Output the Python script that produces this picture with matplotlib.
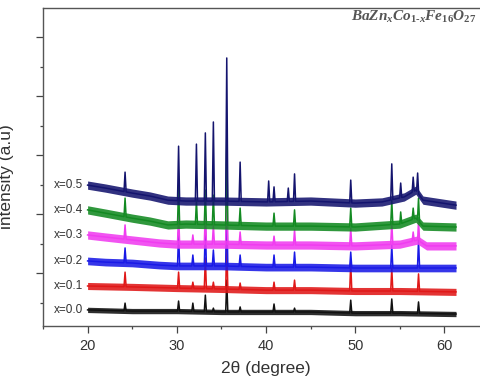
import numpy as np
import matplotlib
matplotlib.use("Agg")
import matplotlib.pyplot as plt
from matplotlib.ticker import MultipleLocator

plt.rcParams['font.family'] = ['Liberation Sans', 'DejaVu Sans']
plt.rcParams['mathtext.fontset'] = 'custom'
plt.rcParams['mathtext.it'] = 'Liberation Serif:italic:bold'
plt.rcParams['mathtext.rm'] = 'Liberation Serif:bold'

# ---------------- data (2theta in degrees, intensity in a.u.) ----------------
labels = ["x=0.0", "x=0.1", "x=0.2", "x=0.3", "x=0.4", "x=0.5"]
colors = ["#111111", "#e01818", "#1a1ae6", "#f03cf0", "#138a22", "#14146e"]

# background anchors
bg_x_05 = [20, 22, 25, 27, 29, 31, 35, 40, 45, 50, 53, 55.5, 56.8, 57.6, 61.3]
bg_y_05 = [1490, 1440, 1355, 1305, 1235, 1220, 1220, 1205, 1220, 1185, 1205, 1290, 1405, 1235, 1150]
bg_x_04 = [20, 22, 25, 27, 29, 31, 35, 40, 45, 50, 55, 56.8, 57.6, 61.3]
bg_y_04 = [1070, 1015, 930, 880, 815, 830, 815, 795, 795, 780, 830, 930, 795, 780]
bg_x_03 = [20, 22, 25, 28, 30, 35, 40, 45, 50, 55, 57, 58, 61.3]
bg_y_03 = [645, 610, 560, 510, 490, 490, 475, 475, 460, 490, 560, 460, 460]
bg_x_02 = [20, 22, 25, 28, 30, 35, 40, 45, 50, 55, 61.3]
bg_y_02 = [205, 185, 170, 135, 120, 120, 100, 100, 85, 85, 85]
bg_x_01 = [20, 25, 30, 35, 40, 45, 50, 55, 61.3]
bg_y_01 = [-220, -235, -255, -270, -290, -290, -305, -305, -320]
bg_x_00 = [20, 25, 30, 35, 40, 45, 50, 55, 61.3]
bg_y_00 = [-625, -645, -645, -660, -660, -660, -680, -680, -695]

# peak positions and peak-top intensities
pk_x_05 = [24.2, 30.2, 32.2, 33.2, 34.1, 35.6, 37.1, 40.3, 40.9, 42.5, 43.2, 49.5, 54.1, 55.1, 56.5, 57.0]
pk_y_05 = [1710, 2150, 2185, 2375, 2560, 3645, 1880, 1560, 1460, 1440, 1680, 1575, 1850, 1525, 1625, 1695]
pk_x_04 = [24.2, 30.2, 32.2, 33.2, 34.1, 35.6, 37.1, 40.9, 43.2, 49.5, 54.1, 55.1, 56.5, 57.1]
pk_y_04 = [1270, 1490, 1235, 1405, 1320, 2255, 1100, 1015, 1070, 1100, 1235, 1035, 1100, 1270]
pk_x_03 = [24.2, 30.2, 31.8, 33.2, 34.1, 35.6, 37.1, 40.9, 43.2, 49.5, 54.1, 56.5, 57.1]
pk_y_03 = [815, 1035, 645, 1070, 815, 1915, 695, 625, 730, 765, 865, 695, 900]
pk_x_02 = [24.2, 30.2, 31.8, 33.2, 34.1, 35.6, 37.1, 40.9, 43.2, 49.5, 54.1, 57.1]
pk_y_02 = [425, 695, 305, 815, 390, 1320, 305, 305, 355, 355, 475, 560]
pk_x_01 = [24.2, 30.2, 31.8, 33.2, 34.1, 35.6, 37.1, 40.9, 43.2, 49.5, 54.1, 57.1]
pk_y_01 = [15, 15, -155, 255, -155, 560, -170, -155, -120, 170, 85, -15]
pk_x_00 = [24.2, 30.2, 31.8, 33.2, 34.1, 35.6, 37.1, 40.9, 43.2, 49.5, 54.1, 57.1]
pk_y_00 = [-510, -475, -510, -375, -595, -120, -575, -525, -595, -460, -440, -490]

noise_amp = [45, 60, 65, 70, 70, 70]   # half-height of the noisy background band

bg_x = [bg_x_00, bg_x_01, bg_x_02, bg_x_03, bg_x_04, bg_x_05]
bg_y = [bg_y_00, bg_y_01, bg_y_02, bg_y_03, bg_y_04, bg_y_05]
pk_x = [pk_x_00, pk_x_01, pk_x_02, pk_x_03, pk_x_04, pk_x_05]
pk_y = [pk_y_00, pk_y_01, pk_y_02, pk_y_03, pk_y_04, pk_y_05]

# ---------------- figure ----------------
fig = plt.figure(figsize=(4.8, 3.81), dpi=100)
ax = fig.add_axes([43/480, 55/381, 446/480, 318/381])

hw = 0.12
for i in range(6):
    bx = np.array(bg_x[i], float); by = np.array(bg_y[i], float)
    xs = list(bx); ys = list(by)
    for p, t in zip(pk_x[i], pk_y[i]):
        for xx in (p - hw, p + hw):
            xs.append(xx); ys.append(np.interp(xx, bx, by))
        xs.append(p); ys.append(t)
    order = np.argsort(xs)
    xs = np.array(xs)[order]; ys = np.array(ys)[order]
    a = noise_amp[i]
    ax.fill_between(bx, by - a, by + a, color=colors[i], lw=0, alpha=0.88, zorder=2 + i)
    ax.plot(xs, ys, color=colors[i], lw=1.1, zorder=2 + i)
    ax.text(19.5, by[0], labels[i], ha='right', va='center', fontsize=8.5, color='#333333')

ax.set_xlim(15, 65)
ax.set_ylim(-898, 4492)
ax.xaxis.set_major_locator(MultipleLocator(10))
ax.xaxis.set_minor_locator(MultipleLocator(5))
ax.yaxis.set_major_locator(MultipleLocator(1000))
ax.yaxis.set_minor_locator(MultipleLocator(500))
ax.tick_params(axis='both', which='major', length=5, width=0.9, color='#444444', direction='out')
ax.tick_params(axis='both', which='minor', length=2.5, width=0.9, color='#444444', direction='out')
ax.tick_params(axis='x', labelsize=10.5, labelcolor='#333333', pad=4)
ax.tick_params(axis='y', labelleft=False)
for s in ax.spines.values():
    s.set_color('#555555'); s.set_linewidth(1.0)

ax.set_xlabel('2θ (degree)', fontsize=12.5, color='#333333', labelpad=6)
ax.set_ylabel('intensity (a.u)', fontsize=12.5, color='#333333')
ax.yaxis.set_label_coords(-0.065, 0.47)

ax.text(0.69, 0.972, r'$BaZn_xCo_{1\text{-}x}Fe_{16}O_{27}$', transform=ax.transAxes,
        ha='left', va='center', fontsize=11, color='#555555')

fig.savefig('out.png', dpi=100)
